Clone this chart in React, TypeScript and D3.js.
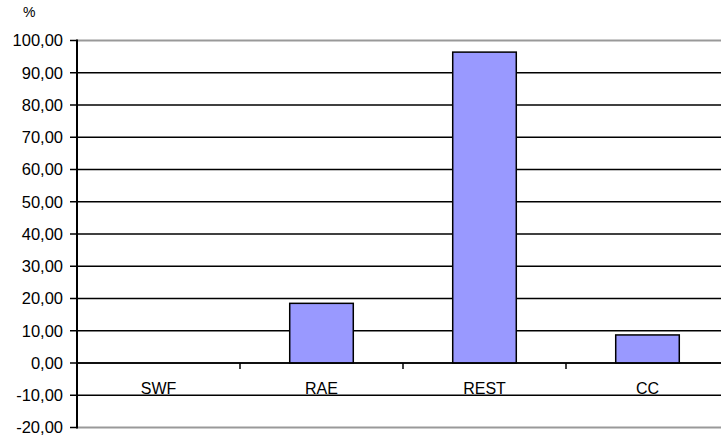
import React from "react";
import * as d3 from "d3";

const categories = ["SWF", "RAE", "REST", "CC"];
const values = [0, 18.5, 96.4, 8.7];
const yTicks = [-20, -10, 0, 10, 20, 30, 40, 50, 60, 70, 80, 90, 100];
const unitLabel = "%";

const W = 721;
const H = 437;
const plot = { left: 77, right: 729, top: 40.5, bottom: 427.5 };

const locale = d3.formatLocale({
  decimal: ",",
  thousands: ".",
  grouping: [3],
  currency: ["", " €"],
  minus: "-",
});
const fmt = locale.format(".2f");

export default function App() {
  const x = d3
    .scaleBand<string>()
    .domain(categories)
    .range([plot.left, plot.right])
    .padding(0);
  const y = d3.scaleLinear().domain([-20, 100]).range([plot.bottom, plot.top]);
  const barW = x.bandwidth() * 0.39;
  const font = "Arial, 'Liberation Sans', sans-serif";
  const y0 = y(0);

  return (
    <svg
      width={W}
      height={H}
      style={{ position: "absolute", left: 0, top: 0, background: "#fff" }}
    >
      <text x={23} y={17} fontFamily={font} fontSize={14} fill="#000">
        {unitLabel}
      </text>

      {/* horizontal gridlines */}
      {yTicks.map((t) => {
        const edge = t === 100 || t === -20;
        return (
          <line
            key={`g${t}`}
            x1={plot.left}
            x2={plot.right}
            y1={y(t)}
            y2={y(t)}
            stroke={edge ? "#999" : "#000"}
            strokeWidth={edge ? 2 : 1.5}
          />
        );
      })}

      {/* bars */}
      {categories.map((c, i) => {
        const cx = (x(c) as number) + x.bandwidth() / 2;
        const v = values[i];
        if (v === 0) return null;
        return (
          <rect
            key={c}
            x={cx - barW / 2}
            y={y(v)}
            width={barW}
            height={y0 - y(v)}
            fill="#9999FF"
            stroke="#000"
            strokeWidth={1.5}
          />
        );
      })}

      {/* zero baseline with category separators */}
      <line x1={plot.left} x2={plot.right} y1={y0} y2={y0} stroke="#000" strokeWidth={1.5} />
      {categories.slice(1).map((c) => (
        <line
          key={`s${c}`}
          x1={x(c) as number}
          x2={x(c) as number}
          y1={y0}
          y2={y0 + 6}
          stroke="#000"
          strokeWidth={1.5}
        />
      ))}

      {/* category labels */}
      {categories.map((c) => (
        <text
          key={`l${c}`}
          x={(x(c) as number) + x.bandwidth() / 2}
          y={394}
          textAnchor="middle"
          fontFamily={font}
          fontSize={16}
          fill="#000"
        >
          {c}
        </text>
      ))}

      {/* y axis */}
      <line
        x1={plot.left}
        x2={plot.left}
        y1={plot.top - 1}
        y2={plot.bottom + 1}
        stroke="#000"
        strokeWidth={2}
      />
      {yTicks.map((t) => (
        <g key={`t${t}`}>
          <line x1={70} x2={plot.left} y1={y(t)} y2={y(t)} stroke="#000" strokeWidth={1.5} />
          <text
            x={63}
            y={y(t)}
            dy="0.36em"
            textAnchor="end"
            fontFamily={font}
            fontSize={16.5}
            fill="#000"
          >
            {fmt(t)}
          </text>
        </g>
      ))}
    </svg>
  );
}
